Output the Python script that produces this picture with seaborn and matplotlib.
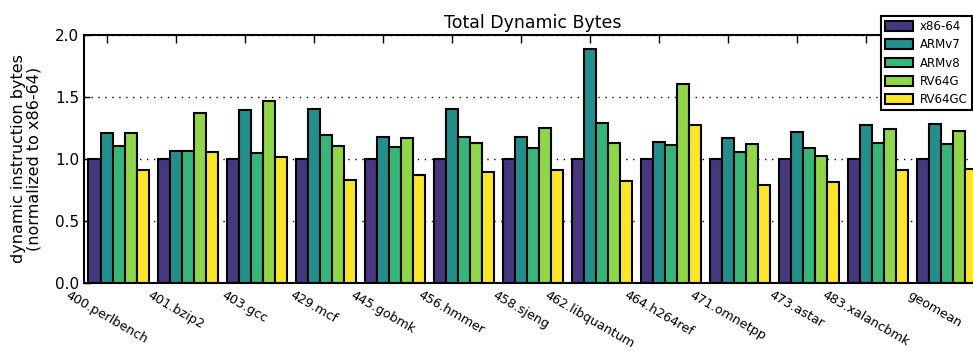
import numpy as np
import pandas as pd
import seaborn as sns
import matplotlib
matplotlib.use("Agg")
import matplotlib.pyplot as plt

benchmarks = ["400.perlbench", "401.bzip2", "403.gcc", "429.mcf", "445.gobmk",
              "456.hmmer", "458.sjeng", "462.libquantum", "464.h264ref",
              "471.omnetpp", "473.astar", "483.xalancbmk", "geomean"]
archs = ["x86-64", "ARMv7", "ARMv8", "RV64G", "RV64GC"]

x86_64 = [1.0] * 13
armv7 = [1.208, 1.066, 1.393, 1.404, 1.178, 1.407, 1.181, 1.887, 1.138,
         1.168, 1.219, 1.275, 1.281]
armv8 = [1.106, 1.066, 1.050, 1.195, 1.093, 1.176, 1.085, 1.294, 1.111,
         1.058, 1.090, 1.133, 1.122]
rv64g = [1.213, 1.372, 1.471, 1.106, 1.168, 1.128, 1.251, 1.133, 1.603,
         1.125, 1.026, 1.238, 1.224]
rv64gc = [0.915, 1.058, 1.020, 0.830, 0.867, 0.899, 0.915, 0.819, 1.275,
          0.792, 0.816, 0.910, 0.918]

colors = ["#46377f", "#21908d", "#35b779", "#8fd744", "#fde725"]


def main():
    rows = []
    for arch, vals in zip(archs, [x86_64, armv7, armv8, rv64g, rv64gc]):
        for b, v in zip(benchmarks, vals):
            rows.append({"benchmark": b, "arch": arch, "value": v})
    df = pd.DataFrame(rows)

    plt.rcParams["font.family"] = ["DejaVu Sans"]
    fig = plt.figure(figsize=(9.73, 3.51), dpi=100)
    ax = fig.add_axes([84 / 973, 1 - 283 / 351, 897.5 / 973, 248 / 351])

    group_w = 0.87
    sns.barplot(data=df, x="benchmark", y="value", hue="arch",
                hue_order=archs, order=benchmarks, palette=colors,
                saturation=1, width=group_w, edgecolor="black",
                linewidth=1.5, ax=ax)

    bar_w = group_w / 5
    ax.set_xlim(-0.5, len(benchmarks) - 0.5)
    ax.set_ylim(0, 2.0)
    ax.set_yticks([0.0, 0.5, 1.0, 1.5, 2.0])
    ax.set_yticklabels(["0.0", "0.5", "1.0", "1.5", "2.0"], fontsize=11)
    ax.set_xticks(np.arange(len(benchmarks)) - bar_w)
    ax.set_xticklabels(benchmarks, rotation=-30, ha="center", fontsize=9.2)
    ax.tick_params(axis="x", direction="in", top=True, bottom=True,
                   length=6, width=1, pad=4)
    ax.tick_params(axis="y", direction="in", right=True, length=4, width=1)
    ax.set_xlabel("")
    ax.set_ylabel("dynamic instruction bytes\n(normalized to x86-64)",
                  fontsize=11.5, labelpad=10, linespacing=1.05)
    ax.set_title("Total Dynamic Bytes", fontsize=12.5, pad=5)
    ax.yaxis.grid(True, linestyle=(0, (1, 4)), color="black", linewidth=1)
    ax.set_axisbelow(True)
    for s in ax.spines.values():
        s.set_linewidth(1.5)
        s.set_color("black")

    sns.move_legend(ax, "upper right", bbox_to_anchor=(0.9895, 1.077),
                    title=None, frameon=True, fancybox=False,
                    fontsize=8.5, borderaxespad=0, handlelength=2.4,
                    handleheight=0.9, labelspacing=0.45, borderpad=0.35,
                    handletextpad=0.6)
    leg = ax.get_legend()
    leg.get_frame().set_edgecolor("black")
    leg.get_frame().set_linewidth(1.5)
    leg.get_frame().set_alpha(1)

    fig.savefig("out.png", dpi=100)


if __name__ == "__main__":
    main()
